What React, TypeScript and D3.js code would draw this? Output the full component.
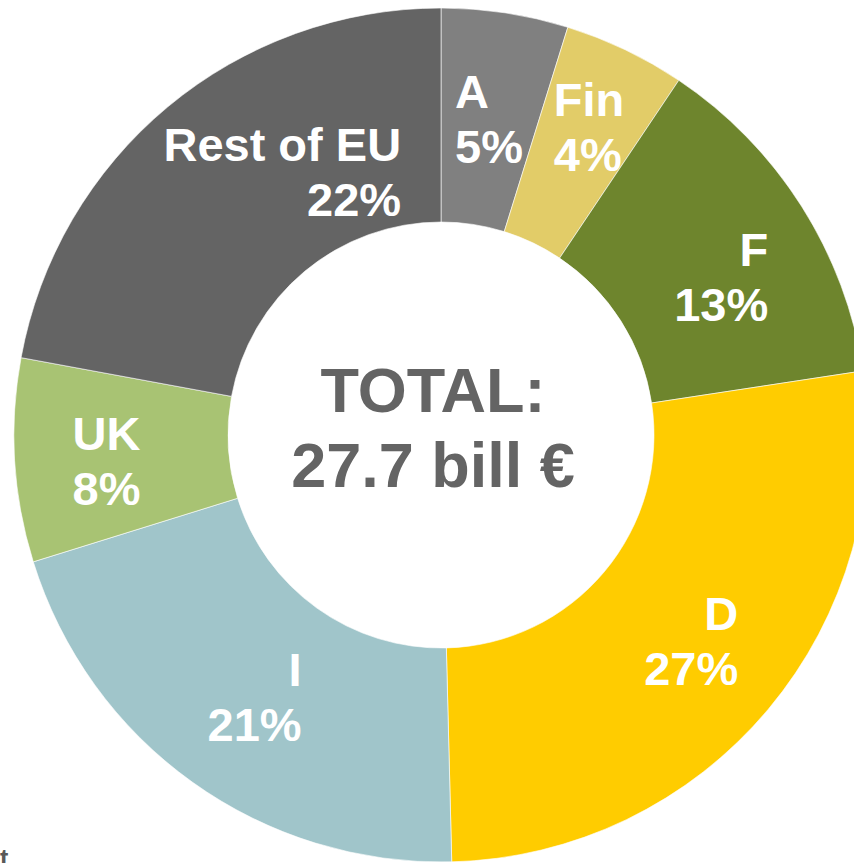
import React, { useEffect, useRef } from "react";
import * as d3 from "d3";

const categories = ["A", "Fin", "F", "D", "I", "UK", "Rest of EU"];
const shares = [4.8, 4.6, 13.2, 27.0, 20.6, 7.7, 22.1];
const pctLabels = ["5%", "4%", "13%", "27%", "21%", "8%", "22%"];
const colors = ["#808080", "#E2CC68", "#6E852D", "#FFCC00", "#A0C5CA", "#A8C373", "#646464"];
const labelAlign = ["start", "start", "end", "end", "end", "start", "end"];
const labelNudge = [[0, 0], [10, -20], [10, 13], [5, 0], [0, 2], [-15, 7], [46, -17]];
const centerLines = ["TOTAL:", "27.7 bill €"];

const W = 854, H = 863;
const CX = 441, CY = 435, R_OUT = 427, R_IN = 213;
const FONT = "'Liberation Sans', Arial, Helvetica, sans-serif";
const LABEL_SIZE = 47;

export default function App() {
  const ref = useRef<SVGSVGElement>(null);
  useEffect(() => {
    const svg = d3.select(ref.current);
    svg.selectAll("*").remove();
    const g = svg.append("g").attr("transform", `translate(${CX},${CY})`);
    const data = categories.map((c, i) => ({ c, v: shares[i], i }));
    const pie = d3.pie<any>().sort(null).value((d: any) => d.v);
    const arcs = pie(data);
    const arc = d3.arc<any>().innerRadius(R_IN).outerRadius(R_OUT);
    g.selectAll("path.slice").data(arcs).enter().append("path")
      .attr("class", "slice")
      .attr("d", arc as any)
      .attr("fill", (d: any) => colors[d.data.i])
      .attr("stroke", "#ffffff")
      .attr("stroke-opacity", 0.6)
      .attr("stroke-width", 1);

    const lineH = 55;
    arcs.forEach((a: any) => {
      const i = a.data.i;
      const [x0, y0] = arc.centroid(a);
      const cx = x0 + labelNudge[i][0];
      const cy = y0 + labelNudge[i][1];
      const lines = [categories[i], pctLabels[i]];
      const tg = g.append("g");
      const texts = lines.map((t) =>
        tg.append("text").text(t)
          .attr("font-family", FONT).attr("font-weight", "bold")
          .attr("font-size", LABEL_SIZE).attr("fill", "#ffffff")
      );
      const widths = texts.map((t) => (t.node() as SVGTextElement).getComputedTextLength());
      const bw = Math.max(...widths);
      const left = cx - bw / 2;
      const right = cx + bw / 2;
      const capH = LABEL_SIZE * 0.716;
      const blockH = capH + lineH;
      const base1 = cy - blockH / 2 + capH;
      texts.forEach((t, k) => {
        const al = labelAlign[i];
        t.attr("x", al === "start" ? left : right)
          .attr("text-anchor", al)
          .attr("y", base1 + k * lineH);
      });
    });

    g.selectAll("text.center").data(centerLines).enter().append("text")
      .attr("class", "center")
      .attr("x", -8)
      .attr("y", (d, k) => -23 + k * 75)
      .attr("text-anchor", "middle")
      .attr("font-family", FONT).attr("font-weight", "bold")
      .attr("font-size", 63).attr("fill", "#646464")
      .text((d) => d);

    svg.append("text").attr("x", 0).attr("y", 867)
      .attr("font-family", FONT).attr("font-weight", "bold")
      .attr("font-size", 25).attr("fill", "#595959").text("t");
  }, []);
  return (
    <svg ref={ref} width={W} height={H}
      style={{ position: "absolute", left: 0, top: 0, background: "#fff" }} />
  );
}
